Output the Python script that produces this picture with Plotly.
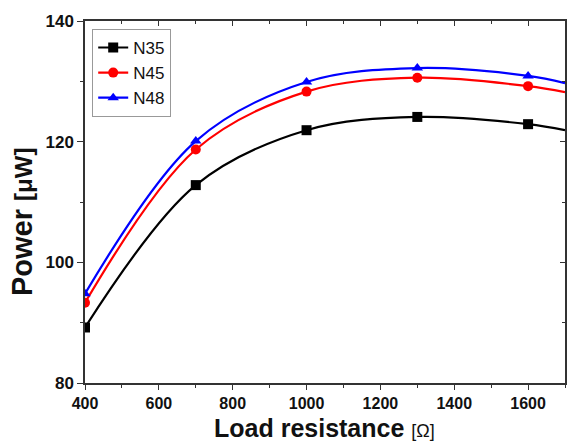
import plotly.graph_objects as go

# Measured points
load_r = [400, 700, 1000, 1300, 1600]
p_n35 = [89.2, 112.8, 121.9, 124.1, 122.9]
p_n45 = [93.3, 118.7, 128.3, 130.6, 129.2]
p_n48 = [94.8, 120.1, 129.9, 132.2, 130.9]

# Fitted curves (extend to 1700)
curve_r = [400, 700, 1000, 1300, 1600, 1700]
c_n35 = [89.2, 112.8, 121.9, 124.1, 122.9, 121.9]
c_n45 = [93.3, 118.7, 128.3, 130.6, 129.2, 128.2]
c_n48 = [94.8, 120.1, 129.9, 132.2, 130.9, 129.7]

names = ["N35", "N45", "N48"]
colors = ["#000000", "#ff0000", "#0000ff"]
symbols = ["square", "circle", "triangle-up"]

x_range = [400, 1700]
y_range = [80, 140]
x_ticks = [400, 600, 800, 1000, 1200, 1400, 1600]
y_ticks = [80, 100, 120, 140]

FONT = "Arial, Liberation Sans, sans-serif"
AX = "#333333"
TXT = "#111111"

fig = go.Figure()
for name, col, sym, cy, py in zip(names, colors, symbols,
                                  [c_n35, c_n45, c_n48], [p_n35, p_n45, p_n48]):
    fig.add_trace(go.Scatter(x=curve_r, y=cy, mode="lines",
                             line=dict(color=col, width=2.2, shape="spline", smoothing=1.0),
                             showlegend=False, hoverinfo="skip"))
    fig.add_trace(go.Scatter(x=load_r, y=py, mode="markers",
                             marker=dict(color=col, symbol=sym, size=10),
                             showlegend=False))
    fig.add_trace(go.Scatter(x=[None], y=[None], mode="lines+markers", name=name,
                             line=dict(color=col, width=2.2),
                             marker=dict(color=col, symbol=sym, size=10)))

# dummy trace for mirrored top/right axes
fig.add_trace(go.Scatter(x=[None], y=[None], xaxis="x2", yaxis="y2",
                         showlegend=False, hoverinfo="skip"))

fig.update_layout(
    width=587, height=444,
    margin=dict(l=85, r=22, t=21, b=61, autoexpand=False),
    paper_bgcolor="white", plot_bgcolor="white",
    font=dict(family=FONT, color=TXT),
    showlegend=True,
    legend=dict(x=0.015, y=0.978, xanchor="left", yanchor="top",
                bgcolor="white", bordercolor="#999999", borderwidth=1,
                font=dict(size=17, family=FONT, color=TXT),
                itemwidth=30, tracegroupgap=0),
    xaxis=dict(range=x_range, tickvals=x_ticks, ticks="outside", ticklen=5,
               tickwidth=1.3, tickcolor=AX, showline=True, linecolor=AX, linewidth=1.5,
               showgrid=False, zeroline=False, automargin=False,
               minor=dict(ticks="outside", ticklen=3, dtick=100, tick0=0, tickcolor=AX),
               tickfont=dict(size=16, family=FONT, weight="bold", color=TXT)),
    yaxis=dict(range=y_range, tickvals=y_ticks, ticks="outside", ticklen=6,
               tickwidth=1.3, tickcolor=AX, showline=True, linecolor=AX, linewidth=1.5,
               showgrid=False, zeroline=False, automargin=False,
               minor=dict(ticks="outside", ticklen=3, dtick=10, tick0=0, tickcolor=AX),
               tickfont=dict(size=17, family=FONT, weight="bold", color=TXT)),
    xaxis2=dict(range=x_range, overlaying="x", side="top", anchor="y2",
                tickvals=x_ticks, ticks="inside", ticklen=5, tickcolor=AX,
                showline=True, linecolor=AX, linewidth=1.5, showticklabels=False,
                showgrid=False, zeroline=False, automargin=False,
                minor=dict(ticks="inside", ticklen=3, dtick=100, tick0=0, tickcolor=AX)),
    yaxis2=dict(range=y_range, overlaying="y", side="right", anchor="x2",
                tickvals=y_ticks, ticks="inside", ticklen=5, tickcolor=AX,
                showline=True, linecolor=AX, linewidth=1.5, showticklabels=False,
                showgrid=False, zeroline=False, automargin=False,
                minor=dict(ticks="inside", ticklen=3, dtick=10, tick0=0, tickcolor=AX)),
    annotations=[
        dict(text="Power <span style='font-size:24px'>[μW]</span>",
             textangle=-90, xref="paper", yref="paper",
             x=-0.131, y=0.445, xanchor="center", yanchor="middle",
             showarrow=False, borderpad=0,
             font=dict(size=29, family=FONT, weight="bold", color=TXT)),
        dict(text="Load resistance <span style='font-size:18px;font-weight:normal'>[Ω]</span>",
             xref="paper", yref="paper",
             x=0.498, y=-0.166, xanchor="center", yanchor="bottom",
             showarrow=False, borderpad=0,
             font=dict(size=25, family=FONT, weight="bold", color=TXT)),
    ],
)

fig.write_html("out.html")
